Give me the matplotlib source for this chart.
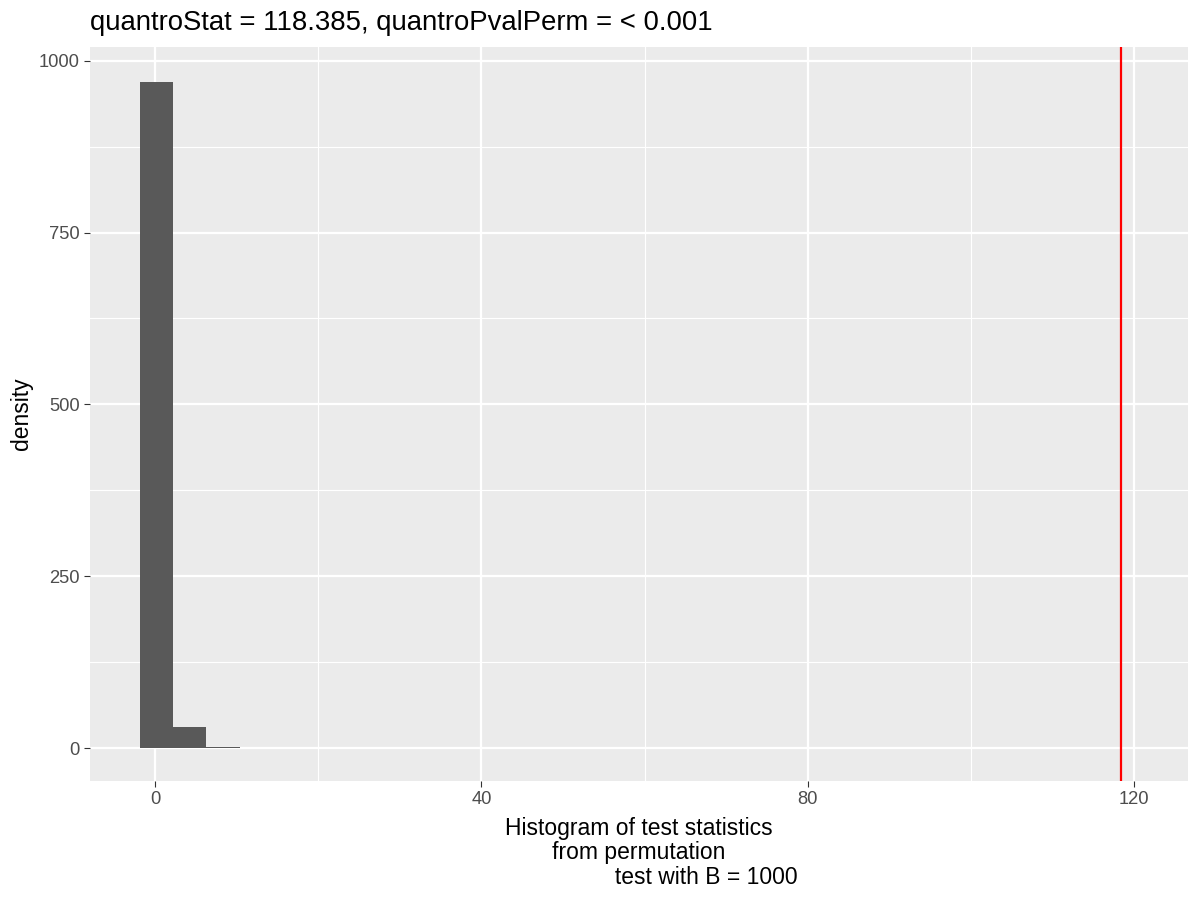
import numpy as np
import matplotlib.pyplot as plt

plt.rcParams['font.family'] = ['Liberation Sans', 'DejaVu Sans']

# histogram of permutation test statistics (density as shown)
bin_edges = [-1.84, 2.2, 6.25, 10.4]
density = [969, 31, 1]
observed_stat = 118.385
title_txt = "quantroStat = 118.385, quantroPvalPerm = < 0.001"
xlabel_txt = "Histogram of test statistics\nfrom permutation\n" + " " * 21 + "test with B = 1000"

fig = plt.figure(figsize=(8, 6), dpi=150)
ax = fig.add_axes([0.075, 0.1322, 0.915, 0.8156])
ax.set_facecolor('#EBEBEB')

lefts = np.array(bin_edges[:-1])
widths = np.diff(bin_edges)
ax.bar(lefts, density, width=widths, align='edge', color='#595959', zorder=3)
ax.axvline(observed_stat, color='red', lw=1.07, zorder=4)

ax.set_xlim(-7.97, 126.6)
ax.set_ylim(-48, 1020)
ax.set_xticks([0, 40, 80, 120])
ax.set_yticks([0, 250, 500, 750, 1000])
ax.set_xticks([20, 60, 100], minor=True)
ax.set_yticks([125, 375, 625, 875], minor=True)
ax.grid(which='major', color='white', lw=1.07, zorder=0)
ax.grid(which='minor', color='white', lw=0.53, zorder=0)
ax.set_axisbelow(True)
for s in ax.spines.values():
    s.set_visible(False)
ax.tick_params(which='major', length=2.75, width=0.53, color='#333333',
               labelsize=8.8, labelcolor='#4D4D4D', pad=2.2)
ax.tick_params(which='minor', length=0)

ax.set_ylabel('density', fontsize=11, labelpad=3)
ax.set_xlabel(xlabel_txt, fontsize=11, linespacing=1.1, labelpad=4)
ax.set_title(title_txt, fontsize=13.2, loc='left', pad=8)

fig.savefig('out.png', dpi=150)
